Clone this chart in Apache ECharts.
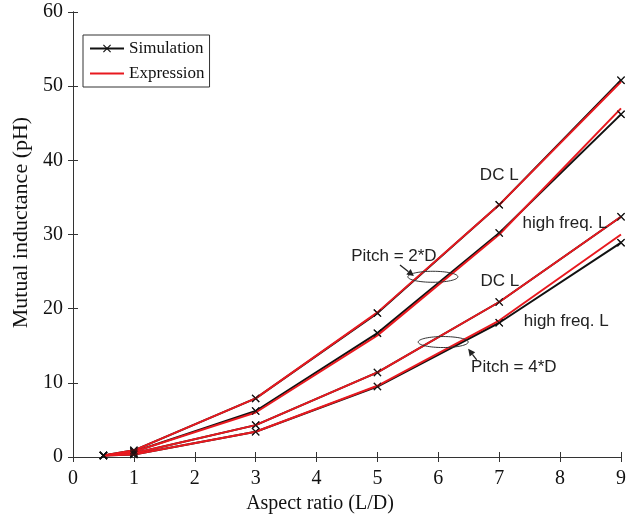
<!DOCTYPE html>
<html>
<head>
<meta charset="utf-8">
<script src="https://cdn.jsdelivr.net/npm/echarts@6/dist/echarts.min.js"></script>
<style>
  html, body { margin: 0; padding: 0; background: #fff; }
  #chart { width: 635px; height: 516px; }
</style>
</head>
<body>
<div id="chart"></div>
<script>
// aspect ratio values
const xVals = [0.5, 1, 3, 5, 7, 9];

// simulation (black, with x marks)
const simP2DC = [0.2, 0.9, 7.9, 19.4, 34.0, 50.8];
const simP2HF = [0.2, 0.7, 6.2, 16.7, 30.2, 46.2];
const simP4DC = [0.2, 0.5, 4.3, 11.4, 20.9, 32.4];
const simP4HF = [0.2, 0.35, 3.4, 9.5, 18.1, 28.9];

// expression (red)
const expP2DC = [0.2, 0.9, 7.9, 19.5, 34.0, 50.6];
const expP2HF = [0.2, 0.7, 6.0, 16.4, 30.0, 47.0];
const expP4DC = [0.2, 0.5, 4.3, 11.4, 20.9, 32.4];
const expP4HF = [0.2, 0.35, 3.4, 9.6, 18.4, 30.0];

// annotation labels, in data coordinates
const labelTexts = ['DC L', 'high freq. L', 'Pitch = 2*D', 'DC L', 'high freq. L', 'Pitch = 4*D'];
const labelPos = [[7.0, 38.0], [8.08, 31.5], [5.27, 27.1], [7.01, 23.7], [8.1, 18.3], [7.24, 12.1]];
const ellipsePos = [[5.91, 24.3], [6.08, 15.5]];
const arrowFrom = [[5.37, 25.9], [6.63, 13.1]];
const arrowTo = [[5.6, 24.4], [6.49, 14.6]];

const RED = '#e8191f';
const crossPath = 'path://M0,1L1,0L5,4L9,0L10,1L6,5L10,9L9,10L5,6L1,10L0,9L4,5Z';
const serif = 'Liberation Serif';

const pairs = arr => xVals.map((x, i) => [x, arr[i]]);

const simSets = [simP2DC, simP2HF, simP4DC, simP4HF];
const expSets = [expP2DC, expP2HF, expP4DC, expP4HF];

const series = [];
simSets.forEach(s => {
  series.push({
    name: 'Simulation',
    type: 'line',
    data: pairs(s),
    symbol: crossPath,
    symbolSize: 8,
    showSymbol: true,
    z: 2,
    lineStyle: { color: '#111', width: 2 },
    itemStyle: { color: '#111' }
  });
});
expSets.forEach(s => {
  series.push({
    name: 'Expression',
    type: 'line',
    data: pairs(s),
    symbol: 'none',
    z: 3,
    lineStyle: { color: RED, width: 2 },
    itemStyle: { color: RED }
  });
});
// marks drawn over the red lines
simSets.forEach(s => {
  series.push({
    name: 'marks',
    type: 'scatter',
    data: pairs(s),
    symbol: crossPath,
    symbolSize: 8,
    z: 4,
    itemStyle: { color: '#111' }
  });
});

const axisCommon = {
  min: 0,
  axisLine: { show: true, lineStyle: { color: '#333', width: 1 } },
  axisTick: { show: true, inside: true, length: 5, lineStyle: { color: '#333' } },
  splitLine: { show: false }
};

const chart = echarts.init(document.getElementById('chart'));
chart.setOption({
  animation: false,
  backgroundColor: '#fff',
  grid: { left: 73, right: 14, top: 12, bottom: 59, outerBoundsMode: 'none' },
  legend: {
    data: [
      { name: 'Simulation' },
      { name: 'Expression', itemStyle: { opacity: 0 } }
    ],
    orient: 'vertical',
    left: 83,
    top: 35,
    itemWidth: 34,
    itemHeight: 10,
    itemGap: 8,
    padding: [5, 5, 5, 6],
    borderColor: '#333',
    borderWidth: 1,
    borderRadius: 0,
    backgroundColor: '#fff',
    textStyle: { fontFamily: serif, fontSize: 17, color: '#111' }
  },
  xAxis: [
    Object.assign({}, axisCommon, {
      type: 'value', max: 9, interval: 1,
      name: 'Aspect ratio (L/D)', nameLocation: 'middle', nameGap: 35,
      nameTextStyle: { fontFamily: serif, fontSize: 20, color: '#111', padding: [0, 54, 0, 0] },
      axisLabel: { fontFamily: serif, fontSize: 20, color: '#111', margin: 12 }
    }),
    Object.assign({}, axisCommon, {
      type: 'value', max: 9, interval: 1, position: 'top',
      axisLabel: { show: false }
    })
  ],
  yAxis: [
    Object.assign({}, axisCommon, {
      type: 'value', max: 60, interval: 10,
      name: 'Mutual inductance (pH)', nameLocation: 'middle', nameGap: 28,
      nameTextStyle: { fontFamily: serif, fontSize: 22, color: '#111', padding: [0, 0, 0, 24] },
      axisLabel: { fontFamily: serif, fontSize: 20, color: '#111', margin: 10 }
    }),
    Object.assign({}, axisCommon, {
      type: 'value', max: 60, interval: 10, position: 'right',
      axisLabel: { show: false }
    })
  ],
  series: series
});

// annotations placed from data coordinates
const px = p => chart.convertToPixel({ xAxisIndex: 0, yAxisIndex: 0 }, p);
const graphic = [];
labelTexts.forEach((t, i) => {
  const p = px(labelPos[i]);
  graphic.push({
    type: 'text', x: p[0], y: p[1], z: 10,
    style: { text: t, fontFamily: 'Liberation Sans', fontSize: 17, fill: '#222', align: 'center', verticalAlign: 'middle' }
  });
});
ellipsePos.forEach(e => {
  const p = px(e);
  graphic.push({
    type: 'ellipse', z: 10,
    shape: { cx: p[0], cy: p[1], rx: 25, ry: 5.5 },
    style: { fill: 'none', stroke: '#333', lineWidth: 1 }
  });
});
arrowFrom.forEach((a, i) => {
  const p0 = px(a), p1 = px(arrowTo[i]);
  const dx = p1[0] - p0[0], dy = p1[1] - p0[1];
  const len = Math.sqrt(dx * dx + dy * dy);
  const ux = dx / len, uy = dy / len;
  const hl = 7, hw = 3.5;
  const bx = p1[0] - ux * hl, by = p1[1] - uy * hl;
  graphic.push({
    type: 'line', z: 10,
    shape: { x1: p0[0], y1: p0[1], x2: bx, y2: by },
    style: { stroke: '#222', lineWidth: 1.3 }
  });
  graphic.push({
    type: 'polygon', z: 10,
    shape: { points: [[p1[0], p1[1]], [bx - uy * hw, by + ux * hw], [bx + uy * hw, by - ux * hw]] },
    style: { fill: '#222' }
  });
});
chart.setOption({ graphic: graphic });
</script>
</body>
</html>
